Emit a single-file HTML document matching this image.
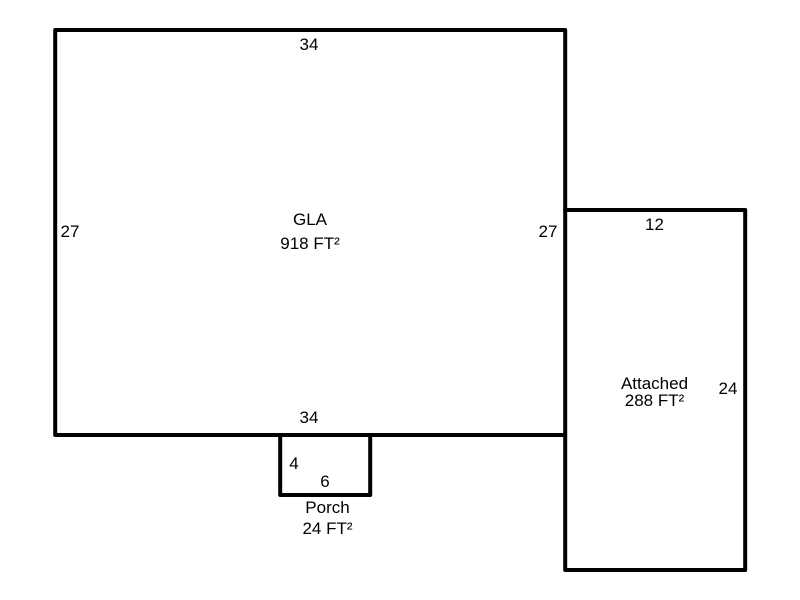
<!DOCTYPE html>
<html>
<head>
<meta charset="utf-8">
<style>
html,body{margin:0;padding:0;background:#fff;width:800px;height:600px;overflow:hidden}
svg{display:block}
text{font-family:"Liberation Sans",Arial,sans-serif;font-size:17px;fill:#000;text-anchor:middle}
</style>
</head>
<body>
<svg width="800" height="600" viewBox="0 0 800 600" xmlns="http://www.w3.org/2000/svg">
<g fill="none" stroke="#000" stroke-width="4" stroke-linejoin="round" stroke-linecap="round">
<path d="M55.200 30H565.200V435H55.200Z"/>
<path d="M565.200 210H745.200V570H565.200V435"/>
<path d="M280.200 435V495H370.200V435"/>
</g>
<text x="309" y="50">34</text>
<text x="70" y="237">27</text>
<text x="548" y="237">27</text>
<text x="309" y="423">34</text>
<text x="310" y="225">GLA</text>
<text x="310" y="249">918 FT²</text>
<text x="654.500" y="230">12</text>
<text x="728" y="394">24</text>
<text x="654.500" y="389">Attached</text>
<text x="654.500" y="406">288 FT²</text>
<text x="294" y="469">4</text>
<text x="325" y="487">6</text>
<text x="327.500" y="513">Porch</text>
<text x="327.500" y="534">24 FT²</text>
</svg>
</body>
</html>
